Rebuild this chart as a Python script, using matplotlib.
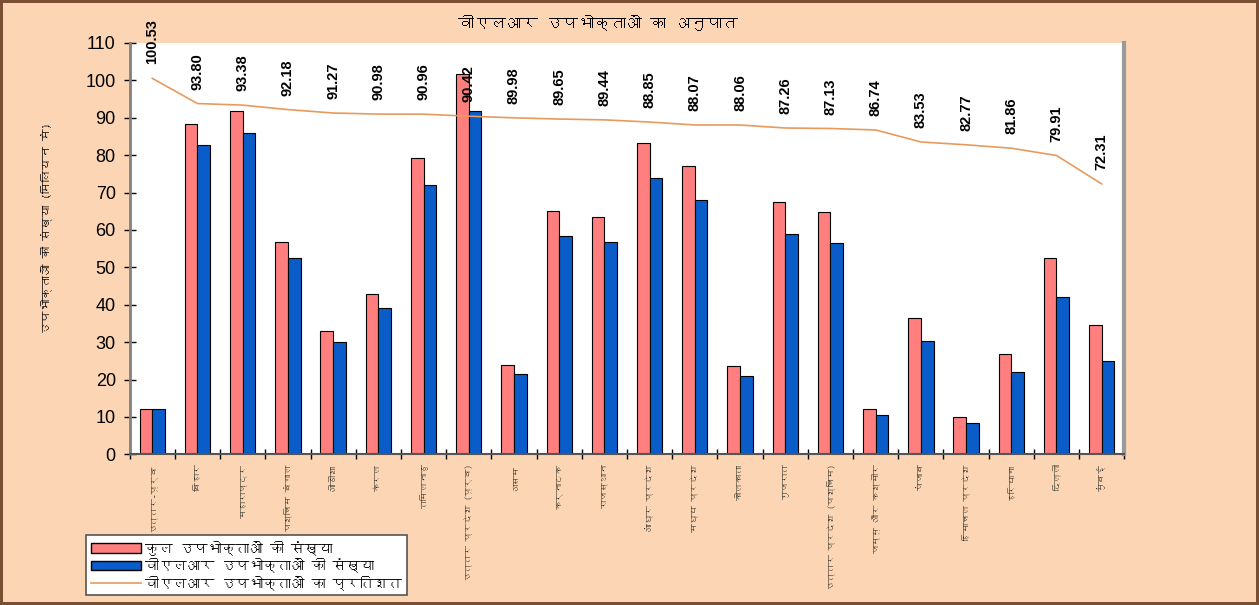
import matplotlib
matplotlib.use('Agg')
import matplotlib.pyplot as plt
import numpy as np
from matplotlib import font_manager
from matplotlib.ft2font import FT2Font
from matplotlib.patches import Patch
from matplotlib.lines import Line2D

# सर्किल के नाम
circles = ['उत्तर-पूर्व', 'बिहार', 'महाराष्ट्र', 'पश्चिम बंगाल', 'ओडीशा', 'केरल', 'तमिलनाडु',
           'उत्तर प्रदेश (पूर्व)', 'असम', 'कर्नाटक', 'राजस्थान', 'आंध्र प्रदेश', 'मध्य प्रदेश',
           'कोलकाता', 'गुजरात', 'उत्तर प्रदेश (पश्चिम)', 'जम्मू और कश्मीर', 'पंजाब',
           'हिमाचल प्रदेश', 'हरियाणा', 'दिल्ली', 'मुंबई']

total_subs = [12.1, 88.2, 91.9, 56.9, 32.9, 42.9, 79.3, 101.6, 24.0, 65.2, 63.4,
              83.3, 77.1, 23.7, 67.4, 64.7, 12.1, 36.4, 10.0, 26.7, 52.6, 34.5]
vlr_subs = [12.2, 82.7, 85.8, 52.4, 30.0, 39.2, 72.1, 91.9, 21.6, 58.5, 56.7,
            74.0, 67.9, 20.9, 58.8, 56.4, 10.5, 30.4, 8.3, 21.9, 42.0, 24.9]
vlr_pct = [100.53, 93.80, 93.38, 92.18, 91.27, 90.98, 90.96, 90.42, 89.98, 89.65, 89.44,
           88.85, 88.07, 88.06, 87.26, 87.13, 86.74, 83.53, 82.77, 81.86, 79.91, 72.31]

title = 'वीएलआर उपभोक्ताओं का अनुपात'
ylabel = 'उपभोक्ताओं की संख्या (मिलियन में)'
legend_labels = ['कुल उपभोक्ताओं की संख्या', 'वीएलआर उपभोक्ताओं की संख्या',
                 'वीएलआर उपभोक्ताओं का प्रतिशत']


# देवनागरी वाला फ़ॉन्ट ढूँढना
def find_deva_font():
    for f in font_manager.fontManager.ttflist:
        try:
            if 0x0915 in FT2Font(f.fname).get_charmap():
                return f.name
        except Exception:
            pass
    return None


deva = find_deva_font()
hindi_fonts = [deva, 'DejaVu Sans'] if deva else ['DejaVu Sans']
num_font = ['Liberation Sans', 'DejaVu Sans']

bg = '#FCD5B5'
red = '#FF7F7F'
blue = '#0A5CC8'
orange = '#E89A5C'

fig = plt.figure(figsize=(12.59, 6.05), dpi=100, facecolor=bg,
                 edgecolor='#7A4E32', linewidth=3)
ax = fig.add_axes([0.103, 0.249, 0.790, 0.680])
ax.set_facecolor('white')

x = np.arange(len(circles))
w = 0.28
ax.bar(x - w / 2, total_subs, w, color=red, edgecolor='black', linewidth=0.8)
ax.bar(x + w / 2, vlr_subs, w, color=blue, edgecolor='black', linewidth=0.8)
ax.plot(x, vlr_pct, color=orange, linewidth=1.2)

# प्रतिशत के लेबल
for xi, p in zip(x, vlr_pct):
    ax.annotate(f'{p:.2f}', (xi, p), xytext=(0, 10), textcoords='offset points',
                rotation=90, ha='center', va='bottom', fontsize=10.5,
                fontweight='bold', family=num_font, annotation_clip=False)

ax.set_xlim(-0.5, len(circles) - 0.5)
ax.set_ylim(0, 110)
ax.set_yticks(np.arange(0, 111, 10))
ax.set_yticklabels([str(v) for v in range(0, 111, 10)], fontsize=13, family=num_font)
ax.set_xticks(x)
ax.set_xticklabels(circles, rotation=90, fontsize=6.5, family=hindi_fonts, color='#2e2e22')
ax.set_xticks(np.arange(-0.5, len(circles), 1), minor=True)
ax.tick_params(axis='x', which='major', length=0, pad=7)
ax.tick_params(axis='x', which='minor', length=7, direction='inout', width=1)
ax.tick_params(axis='y', length=8, direction='inout', width=1, pad=6)

ax.spines['top'].set_visible(False)
ax.spines['right'].set_color('#9a9a9a')
ax.spines['right'].set_linewidth(3)
ax.spines['left'].set_color('#808080')
ax.spines['left'].set_linewidth(2)
ax.spines['bottom'].set_color('#555555')
ax.spines['bottom'].set_linewidth(1.5)

ax.set_ylabel(ylabel, fontsize=8.5, family=hindi_fonts)
ax.yaxis.set_label_coords(-0.078, 0.55)
fig.text(0.475, 0.962, title, ha='center', va='center', fontsize=11.5,
         fontweight='bold', family=hindi_fonts)

handles = [Patch(facecolor=red, edgecolor='black'),
           Patch(facecolor=blue, edgecolor='black'),
           Line2D([0], [0], color=orange, linewidth=1.2)]
leg = fig.legend(handles, legend_labels, loc='lower left',
                 bbox_to_anchor=(0.063, 0.005), fancybox=False, framealpha=1,
                 edgecolor='#555555', handlelength=3.6, handleheight=0.7,
                 labelspacing=0.2, handletextpad=0.3, borderpad=0.35,
                 prop={'family': hindi_fonts, 'size': 10})
leg.get_frame().set_linewidth(1.2)

fig.savefig('out.png', dpi=100)
